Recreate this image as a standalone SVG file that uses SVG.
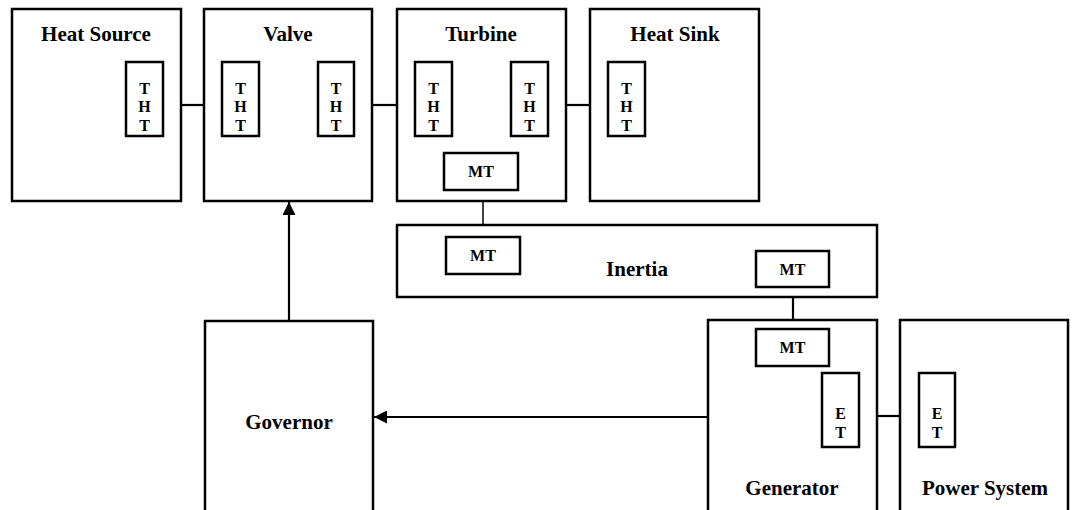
<svg xmlns="http://www.w3.org/2000/svg" width="1072" height="510" viewBox="0 0 1072 510">
<style>
.box{fill:#fff;stroke:#000;stroke-width:2.5}
.sub{fill:#fff;stroke:#000;stroke-width:2.5}
.t{font-family:"Liberation Serif","Times New Roman",serif;font-weight:bold;fill:#000;text-anchor:middle}
.title{font-size:21px}
.lbl{font-size:16px}
.c{stroke:#000;stroke-width:2.2;fill:none}
</style>
<defs>
<marker id="ah" viewBox="0 0 10 10" refX="10" refY="5" markerWidth="16" markerHeight="13" markerUnits="userSpaceOnUse" orient="auto">
<path d="M0,0 L10,5 L0,10 z" fill="#000"/>
</marker>
</defs>
<g id="connectors">
<line class="c" x1="181" y1="105" x2="204" y2="105"/>
<line class="c" x1="372" y1="105" x2="397" y2="105"/>
<line class="c" x1="566" y1="105" x2="590" y2="105"/>
<line class="c" x1="483" y1="201" x2="483" y2="225" style="stroke-width:1.5"/>
<line class="c" x1="793" y1="297" x2="793" y2="320"/>
<line class="c" x1="877" y1="416" x2="900" y2="416"/>
<line class="c" x1="289" y1="321" x2="289" y2="202" marker-end="url(#ah)"/>
<line class="c" x1="708" y1="417" x2="374" y2="417" marker-end="url(#ah)"/>
</g>
<g id="heat-source">
<rect class="box" x="12" y="9" width="169" height="192"/>
<text class="t title" x="96" y="41">Heat Source</text>
<rect class="sub" x="126" y="62" width="37" height="74"/>
<text class="t lbl" x="144.5" y="93.5">T</text><text class="t lbl" x="144.5" y="111.5">H</text><text class="t lbl" x="144.5" y="130.5">T</text>
</g>
<g id="valve">
<rect class="box" x="204" y="9" width="168" height="192"/>
<text class="t title" x="288" y="41">Valve</text>
<rect class="sub" x="222" y="62" width="37" height="74"/>
<text class="t lbl" x="240.5" y="93.5">T</text><text class="t lbl" x="240.5" y="111.5">H</text><text class="t lbl" x="240.5" y="130.5">T</text>
<rect class="sub" x="318" y="62" width="36" height="74"/>
<text class="t lbl" x="336" y="93.5">T</text><text class="t lbl" x="336" y="111.5">H</text><text class="t lbl" x="336" y="130.5">T</text>
</g>
<g id="turbine">
<rect class="box" x="397" y="9" width="169" height="192"/>
<text class="t title" x="481" y="41">Turbine</text>
<rect class="sub" x="415" y="62" width="37" height="74"/>
<text class="t lbl" x="433.5" y="93.5">T</text><text class="t lbl" x="433.5" y="111.5">H</text><text class="t lbl" x="433.5" y="130.5">T</text>
<rect class="sub" x="511" y="62" width="37" height="74"/>
<text class="t lbl" x="529.5" y="93.5">T</text><text class="t lbl" x="529.5" y="111.5">H</text><text class="t lbl" x="529.5" y="130.5">T</text>
<rect class="sub" x="444" y="153" width="74" height="37"/>
<text class="t lbl" x="481" y="177">MT</text>
</g>
<g id="heat-sink">
<rect class="box" x="590" y="9" width="169" height="192"/>
<text class="t title" x="675" y="41">Heat Sink</text>
<rect class="sub" x="608" y="62" width="37" height="74"/>
<text class="t lbl" x="626.5" y="93.5">T</text><text class="t lbl" x="626.5" y="111.5">H</text><text class="t lbl" x="626.5" y="130.5">T</text>
</g>
<g id="inertia">
<rect class="box" x="397" y="225" width="480" height="72"/>
<text class="t title" x="637" y="276">Inertia</text>
<rect class="sub" x="446" y="237" width="74" height="37"/>
<text class="t lbl" x="483" y="261">MT</text>
<rect class="sub" x="756" y="251" width="73" height="36"/>
<text class="t lbl" x="792.5" y="275">MT</text>
</g>
<g id="governor">
<rect class="box" x="205" y="321" width="168" height="200"/>
<text class="t title" x="289" y="429">Governor</text>
</g>
<g id="generator">
<rect class="box" x="708" y="320" width="169" height="200"/>
<text class="t title" x="792" y="495">Generator</text>
<rect class="sub" x="756" y="329" width="73" height="37"/>
<text class="t lbl" x="792.5" y="353">MT</text>
<rect class="sub" x="822" y="373" width="37" height="74"/>
<text class="t lbl" x="840.5" y="418.5">E</text><text class="t lbl" x="840.5" y="437.5">T</text>
</g>
<g id="power-system">
<rect class="box" x="900" y="320" width="168" height="200"/>
<text class="t title" x="985" y="495">Power System</text>
<rect class="sub" x="919" y="373" width="36" height="74"/>
<text class="t lbl" x="937" y="418.5">E</text><text class="t lbl" x="937" y="437.5">T</text>
</g>
</svg>
